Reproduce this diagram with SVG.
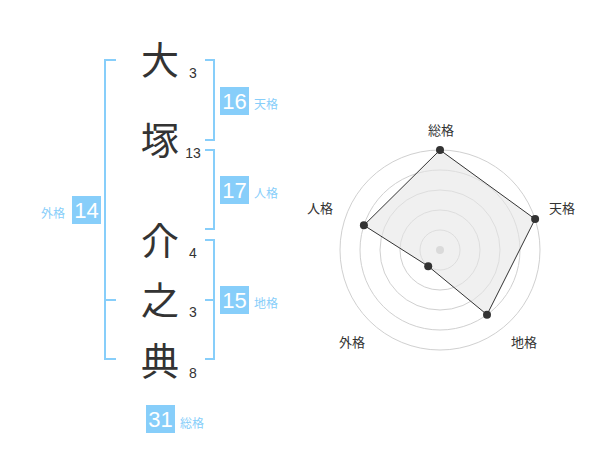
<svg xmlns="http://www.w3.org/2000/svg" width="600" height="470" viewBox="0 0 600 470">
<style>
.ch{font-family:"Noto Sans CJK JP","Noto Sans CJK SC",sans-serif;font-size:38px;fill:#333;text-anchor:middle}
.st{font-family:"Liberation Sans",Arial,sans-serif;font-size:14px;fill:#333;text-anchor:middle}
.box{fill:#87cefa}
.bn{font-family:"Liberation Sans",Arial,sans-serif;font-size:22px;fill:#fff;text-anchor:middle}
.bl{font-family:"Noto Sans CJK JP","Noto Sans CJK SC",sans-serif;font-size:12px;fill:#87cefa}
.br{fill:none;stroke:#87cefa;stroke-width:2}
.rl{font-family:"Noto Sans CJK JP","Noto Sans CJK SC",sans-serif;font-size:13px;fill:#333;text-anchor:middle}
.ring{fill:none;stroke:#d0d0d0;stroke-width:1}
.dot{fill:#333}
</style>
<g id="name">
<g id="c1"><text class="ch" x="160" y="74">大</text><text class="st" x="193" y="78">3</text></g>
<g id="c2"><text class="ch" x="160" y="154">塚</text><text class="st" x="193" y="158">13</text></g>
<g id="c3"><text class="ch" x="160" y="255">介</text><text class="st" x="193" y="258">4</text></g>
<g id="c4"><text class="ch" x="160" y="314">之</text><text class="st" x="193" y="317">3</text></g>
<g id="c5"><text class="ch" x="160" y="375">典</text><text class="st" x="193" y="378">8</text></g>
</g>
<g id="brackets">
<path class="br" d="M116,60 H105 V359 H116 M105,300 H116"/>
<path class="br" d="M205,60 H214 V140 H205"/>
<path class="br" d="M205,150 H214 V229 H205"/>
<path class="br" d="M205,240 H214 V359 H205 M214,300 H205"/>
</g>
<g id="tenkaku"><rect class="box" x="220" y="87" width="29" height="28"/><text class="bn" x="234.5" y="109">16</text><text class="bl" x="254" y="109">天格</text></g>
<g id="jinkaku"><rect class="box" x="220" y="176" width="29" height="28"/><text class="bn" x="234.5" y="198">17</text><text class="bl" x="254" y="198">人格</text></g>
<g id="chikaku"><rect class="box" x="220" y="286" width="29" height="28"/><text class="bn" x="234.5" y="308">15</text><text class="bl" x="254" y="308">地格</text></g>
<g id="gaikaku"><rect class="box" x="72" y="196" width="29" height="28"/><text class="bn" x="86.5" y="218">14</text><text class="bl" x="41" y="218">外格</text></g>
<g id="soukaku"><rect class="box" x="146" y="405" width="29" height="28"/><text class="bn" x="160.5" y="427">31</text><text class="bl" x="180" y="428">総格</text></g>
<g id="radar">
<circle class="ring" cx="440" cy="250" r="20"/>
<circle class="ring" cx="440" cy="250" r="40"/>
<circle class="ring" cx="440" cy="250" r="60"/>
<circle class="ring" cx="440" cy="250" r="80"/>
<circle class="ring" cx="440" cy="250" r="100"/>
<circle cx="440" cy="250" r="4" fill="#c8c8c8"/>
<polygon points="440,150 535.1,219.1 487,314.7 428.2,266.2 363.9,225.3" fill="#e6e6e6" fill-opacity="0.6" stroke="#333" stroke-width="1"/>
<circle class="dot" cx="440" cy="150" r="4"/>
<circle class="dot" cx="535.1" cy="219.1" r="4"/>
<circle class="dot" cx="487" cy="314.7" r="4"/>
<circle class="dot" cx="428.2" cy="266.2" r="4"/>
<circle class="dot" cx="363.9" cy="225.3" r="4"/>
<text class="rl" x="441" y="135">総格</text>
<text class="rl" x="562" y="213">天格</text>
<text class="rl" x="524" y="347">地格</text>
<text class="rl" x="352" y="347">外格</text>
<text class="rl" x="320" y="213">人格</text>
</g>
</svg>
